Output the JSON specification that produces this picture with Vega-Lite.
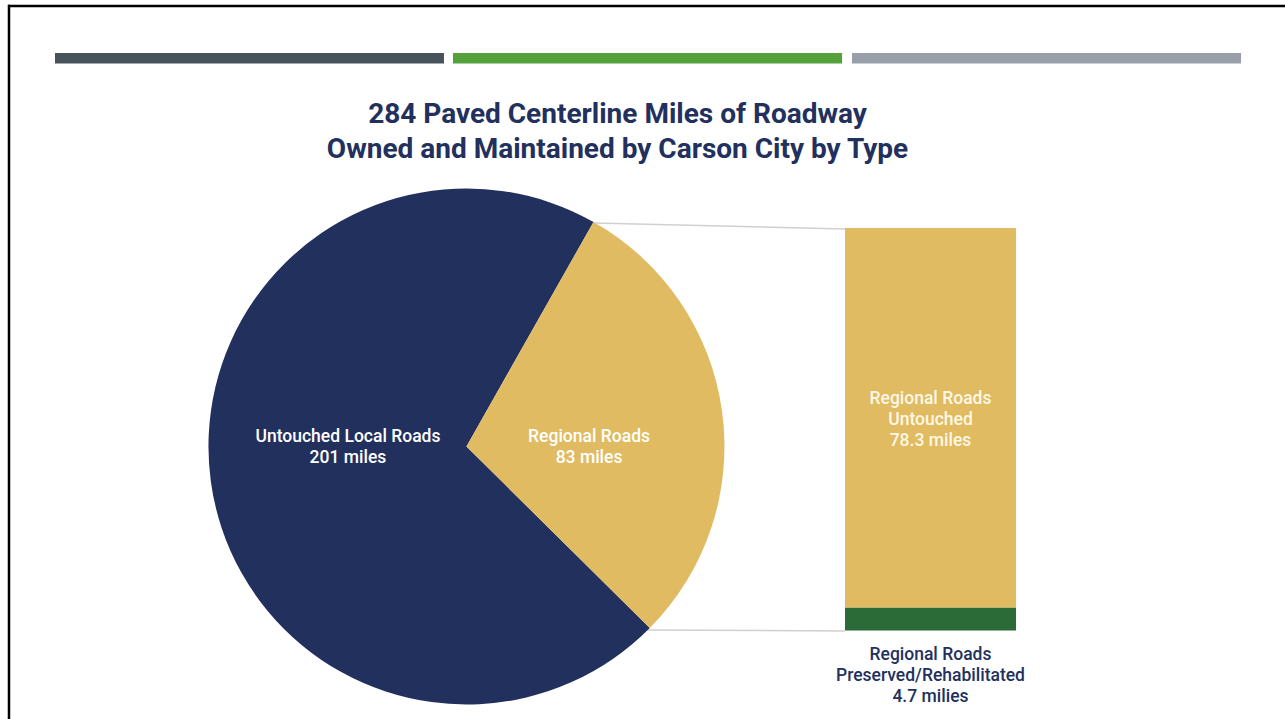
{
  "$schema": "https://vega.github.io/schema/vega-lite/v6.json",
  "width": 1285,
  "height": 719,
  "padding": 0,
  "autosize": "none",
  "background": "white",
  "title": {
    "text": ["284 Paved Centerline Miles of Roadway", "Owned and Maintained by Carson City by Type"],
    "font": "Roboto",
    "fontSize": 28,
    "fontWeight": "bold",
    "color": "#22305e",
    "lineHeight": 35,
    "anchor": "middle",
    "dx": -25,
    "dy": 168
  },
  "config": {
    "view": {"stroke": null},
    "axis": {"disable": true},
    "text": {"font": "Roboto", "fontSize": 17.5, "lineBreak": "\n", "lineHeight": 21}
  },
  "resolve": {"scale": {"y": "independent", "color": "independent"}},
  "layer": [
    {
      "data": {"values": [{}]},
      "mark": {"type": "rule", "color": "#000000", "strokeWidth": 2.5},
      "encoding": {
        "x": {"datum": 0.62, "type": "quantitative", "scale": {"domain": [0, 100]}},
        "x2": {"datum": 100},
        "y": {"datum": 0.83, "type": "quantitative", "scale": {"domain": [0, 100], "reverse": true}},
        "y2": {"datum": 0.83}
      }
    },
    {
      "data": {"values": [{}]},
      "mark": {"type": "rule", "color": "#000000", "strokeWidth": 2.5},
      "encoding": {
        "x": {"datum": 0.7, "type": "quantitative", "scale": {"domain": [0, 100]}},
        "x2": {"datum": 0.7},
        "y": {"datum": 0.65, "type": "quantitative", "scale": {"domain": [0, 100], "reverse": true}},
        "y2": {"datum": 100}
      }
    },
    {
      "data": {"values": [{}]},
      "mark": {"type": "rect", "color": "#47535a"},
      "encoding": {
        "x": {"datum": 4.28, "type": "quantitative", "scale": {"domain": [0, 100]}},
        "x2": {"datum": 34.55},
        "y": {"datum": 7.37, "type": "quantitative", "scale": {"domain": [0, 100], "reverse": true}},
        "y2": {"datum": 8.83}
      }
    },
    {
      "data": {"values": [{}]},
      "mark": {"type": "rect", "color": "#54a03a"},
      "encoding": {
        "x": {"datum": 35.25, "type": "quantitative", "scale": {"domain": [0, 100]}},
        "x2": {"datum": 65.53},
        "y": {"datum": 7.37, "type": "quantitative", "scale": {"domain": [0, 100], "reverse": true}},
        "y2": {"datum": 8.83}
      }
    },
    {
      "data": {"values": [{}]},
      "mark": {"type": "rect", "color": "#989fa8"},
      "encoding": {
        "x": {"datum": 66.3, "type": "quantitative", "scale": {"domain": [0, 100]}},
        "x2": {"datum": 96.58},
        "y": {"datum": 7.37, "type": "quantitative", "scale": {"domain": [0, 100], "reverse": true}},
        "y2": {"datum": 8.83}
      }
    },
    {
      "data": {"values": [{}]},
      "mark": {"type": "rule", "color": "#d0d0d0", "strokeWidth": 1.5},
      "encoding": {
        "x": {"datum": 46.15, "type": "quantitative", "scale": {"domain": [0, 100]}},
        "x2": {"datum": 65.76},
        "y": {"datum": 31.02, "type": "quantitative", "scale": {"domain": [0, 100], "reverse": true}},
        "y2": {"datum": 31.85}
      }
    },
    {
      "data": {"values": [{}]},
      "mark": {"type": "rule", "color": "#d0d0d0", "strokeWidth": 1.5},
      "encoding": {
        "x": {"datum": 50.27, "type": "quantitative", "scale": {"domain": [0, 100]}},
        "x2": {"datum": 65.76},
        "y": {"datum": 87.62, "type": "quantitative", "scale": {"domain": [0, 100], "reverse": true}},
        "y2": {"datum": 87.76}
      }
    },
    {
      "data": {"name": "pie", "values": [
        {"type": "Untouched Local Roads", "miles": 201},
        {"type": "Regional Roads", "miles": 83}
      ]},
      "mark": {"type": "arc", "outerRadius": 258},
      "encoding": {
        "x": {"datum": 36.3, "type": "quantitative", "scale": {"domain": [0, 100]}},
        "y": {"datum": 62.1, "type": "quantitative", "scale": {"domain": [0, 100], "reverse": true}},
        "theta": {"field": "miles", "type": "quantitative", "stack": true, "scale": {"range": [0.5149, 6.7981]}},
        "order": {"field": "type", "type": "nominal", "sort": "ascending"},
        "color": {
          "field": "type",
          "type": "nominal",
          "scale": {"domain": ["Regional Roads", "Untouched Local Roads"], "range": ["#e0bb61", "#22305e"]},
          "legend": null
        }
      }
    },
    {
      "data": {"values": [
        {"type": "Untouched Local Roads", "miles": 201},
        {"type": "Regional Roads", "miles": 83}
      ]},
      "transform": [
        {"filter": "datum.type == 'Untouched Local Roads'"},
        {"calculate": "datum.type + '\\n' + datum.miles + ' miles'", "as": "label"}
      ],
      "mark": {"type": "text", "color": "#ffffff", "fontWeight": 500, "baseline": "middle"},
      "encoding": {
        "x": {"datum": 27.08, "type": "quantitative", "scale": {"domain": [0, 100]}},
        "y": {"datum": 60.78, "type": "quantitative", "scale": {"domain": [0, 100], "reverse": true}},
        "text": {"field": "label"}
      }
    },
    {
      "data": {"values": [
        {"type": "Untouched Local Roads", "miles": 201},
        {"type": "Regional Roads", "miles": 83}
      ]},
      "transform": [
        {"filter": "datum.type == 'Regional Roads'"},
        {"calculate": "datum.type + '\\n' + datum.miles + ' miles'", "as": "label"}
      ],
      "mark": {"type": "text", "color": "#ffffff", "fontWeight": 500, "baseline": "middle"},
      "encoding": {
        "x": {"datum": 45.84, "type": "quantitative", "scale": {"domain": [0, 100]}},
        "y": {"datum": 60.78, "type": "quantitative", "scale": {"domain": [0, 100], "reverse": true}},
        "text": {"field": "label"}
      }
    },
    {
      "data": {"values": [
        {"part": "Untouched", "miles": 78.3},
        {"part": "Preserved/Rehabilitated", "miles": 4.7}
      ]},
      "transform": [
        {"stack": "miles", "groupby": [], "sort": [{"field": "part", "order": "ascending"}], "as": ["y0", "y1"]}
      ],
      "mark": {"type": "rect"},
      "encoding": {
        "x": {"datum": 65.76, "type": "quantitative", "scale": {"domain": [0, 100]}},
        "x2": {"datum": 79.07},
        "y": {"field": "y0", "type": "quantitative", "scale": {"domain": [-18.25, 130.02], "nice": false, "zero": false}},
        "y2": {"field": "y1"},
        "color": {
          "field": "part",
          "type": "nominal",
          "scale": {"domain": ["Untouched", "Preserved/Rehabilitated"], "range": ["#e0bb61", "#2b6b37"]},
          "legend": null
        }
      }
    },
    {
      "data": {"values": [
        {"part": "Untouched", "miles": 78.3},
        {"part": "Preserved/Rehabilitated", "miles": 4.7}
      ]},
      "transform": [
        {"filter": "datum.part == 'Untouched'"},
        {"calculate": "'Regional Roads\\n' + datum.part + '\\n' + datum.miles + ' miles'", "as": "label"}
      ],
      "mark": {"type": "text", "color": "#fff8e6", "fontWeight": 500, "baseline": "middle"},
      "encoding": {
        "x": {"datum": 72.41, "type": "quantitative", "scale": {"domain": [0, 100]}},
        "y": {"datum": 55.5, "type": "quantitative", "scale": {"domain": [0, 100], "reverse": true}},
        "text": {"field": "label"}
      }
    },
    {
      "data": {"values": [
        {"part": "Untouched", "miles": 78.3},
        {"part": "Preserved/Rehabilitated", "miles": 4.7}
      ]},
      "transform": [
        {"filter": "datum.part == 'Preserved/Rehabilitated'"},
        {"calculate": "'Regional Roads\\n' + datum.part + '\\n' + datum.miles + ' milies'", "as": "label"}
      ],
      "mark": {"type": "text", "color": "#22305e", "fontWeight": 500, "baseline": "middle"},
      "encoding": {
        "x": {"datum": 72.41, "type": "quantitative", "scale": {"domain": [0, 100]}},
        "y": {"datum": 91.1, "type": "quantitative", "scale": {"domain": [0, 100], "reverse": true}},
        "text": {"field": "label"}
      }
    }
  ]
}
